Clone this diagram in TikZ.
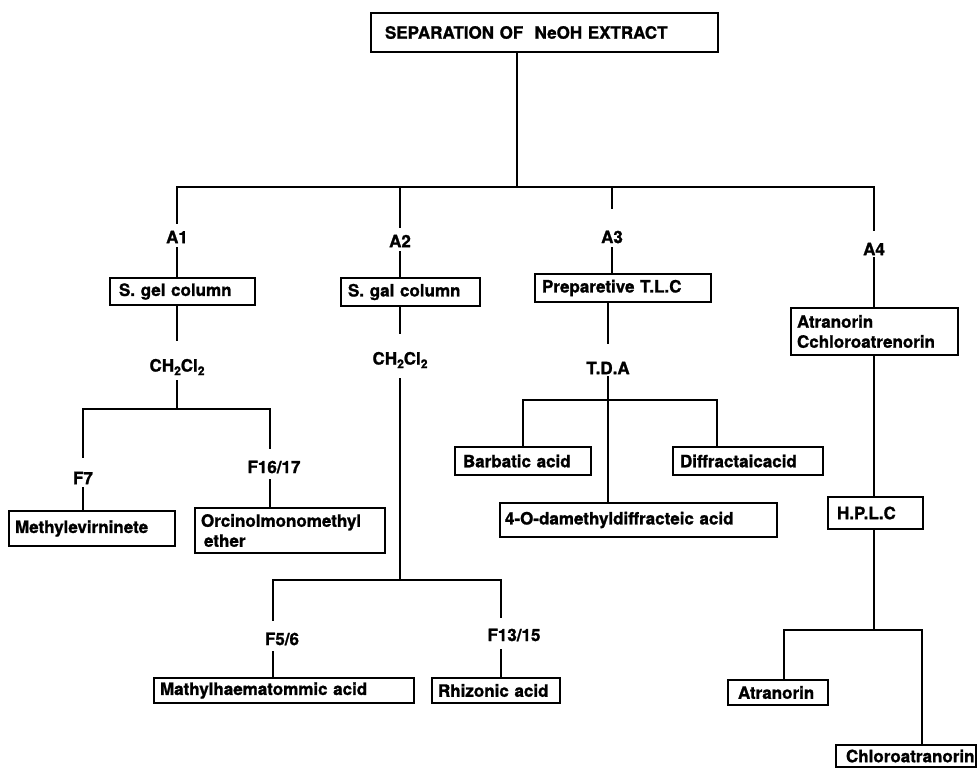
\documentclass[tikz,border=0pt]{standalone}
\usepackage{fontspec}
\setmainfont{TeX Gyre Heros}[BoldFeatures={FakeBold=1.2}]
\usepackage{tikz}
\newcommand\subnum[1]{\raisebox{-3.5pt}{\fontsize{12}{12}\selectfont #1}}

\begin{document}
\begin{tikzpicture}[x=1pt,y=-1pt,
    box/.style={draw,line width=2.8pt,align=left,inner ysep=0pt,font=\bfseries\fontsize{17}{20}\selectfont},
    lbl/.style={inner sep=3pt,font=\bfseries\fontsize{17}{20}\selectfont},
    conn/.style={line width=2.8pt,line cap=rect}]
  \useasboundingbox (0,0) rectangle (978,769);

  \node[box,inner xsep=14pt,text width=319pt,minimum height=39pt] (sep) at (544.5,32.5) {SEPARATION OF\ \ NeOH EXTRACT};
  \coordinate (top) at (517,187);
  \coordinate (ja1) at (177,187);
  \coordinate (ja2) at (400,187);
  \coordinate (ja3) at (612,187);
  \coordinate (ja4) at (874,187);
  \draw[conn] (sep.south -| top) -- (top);
  \draw[conn] (ja1) -- (ja4);

  % A1
  \node[lbl] (la1) at (177,237) {A1};
  \node[box,inner xsep=9pt,text width=127pt,minimum height=27pt] (sgel1) at (182.5,291.5) {S. gel column};
  \node[lbl] (ch1) at (177,367) {CH\subnum{2}Cl\subnum{2}};
  \coordinate (j1) at (177,409);
  \coordinate (j1l) at (83,409);
  \coordinate (j1r) at (270,409);
  \node[lbl] (f7) at (83,478) {F7};
  \node[lbl] (f1617) at (274,467) {F16/17};
  \node[box,inner xsep=6pt,text width=154pt,minimum height=35pt] (methyl) at (92,528.5) {Methylevirninete};
  \node[box,inner xsep=6pt,text width=178pt,minimum height=45pt] (orcin) at (290,530.5) {Orcinolmonomethyl\\\hspace*{3pt}ether};
  \draw[conn,shorten >=5pt] (ja1) -- (la1);
  \draw[conn,shorten <=2pt] (la1) -- (la1 |- sgel1.north);
  \draw[conn,shorten >=16pt] (ch1 |- sgel1.south) -- (ch1);
  \draw[conn,shorten <=3pt] (ch1) -- (j1);
  \draw[conn] (j1l) -- (j1r);
  \draw[conn,shorten >=12pt] (j1l) -- (f7);
  \draw[conn,shorten <=1pt] (f7) -- (f7 |- methyl.north);
  \draw[conn,shorten >=10pt] (j1r) -- (j1r |- f1617.north);
  \draw[conn,shorten <=4pt] (j1r |- f1617.south) -- (j1r |- orcin.north);

  % A2
  \node[lbl] (la2) at (400,241) {A2};
  \node[box,inner xsep=7pt,text width=125pt,minimum height=28pt] (sgel2) at (410.5,292) {S. gal column};
  \node[lbl] (ch2) at (400,360) {CH\subnum{2}Cl\subnum{2}};
  \coordinate (j2) at (400,580);
  \coordinate (j2l) at (273,580);
  \coordinate (j2r) at (501,580);
  \node[lbl] (f56) at (282,639) {F5/6};
  \node[lbl] (f1315) at (514,635) {F13/15};
  \node[box,inner xsep=6pt,text width=248pt,minimum height=25pt] (mathyl) at (284,690.5) {Mathylhaematommic acid};
  \node[box,inner xsep=6pt,text width=116pt,minimum height=25pt] (rhiz) at (496,690.5) {Rhizonic acid};
  \draw[conn,shorten >=5pt] (ja2) -- (la2);
  \draw[conn,shorten <=2pt] (la2) -- (la2 |- sgel2.north);
  \draw[conn,shorten >=16pt] (ch2 |- sgel2.south) -- (ch2);
  \draw[conn,shorten <=8pt] (ch2) -- (j2);
  \draw[conn] (j2l) -- (j2r);
  \draw[conn,shorten >=10pt] (j2l) -- (j2l |- f56.north);
  \draw[conn,shorten <=4pt] (j2l |- f56.south) -- (j2l |- mathyl.north);
  \draw[conn,shorten >=9pt] (j2r) -- (j2r |- f1315.north);
  \draw[conn,shorten <=6pt] (j2r |- f1315.south) -- (j2r |- rhiz.north);

  % A3
  \node[lbl] (la3) at (612,237) {A3};
  \node[box,inner xsep=7pt,text width=162pt,minimum height=28pt] (prep) at (623,288) {Preparetive T.L.C};
  \node[lbl] (tda) at (608,368) {T.D.A};
  \coordinate (j3l) at (523,400);
  \coordinate (j3r) at (717,400);
  \node[box,inner xsep=8pt,text width=120pt,minimum height=28pt] (barb) at (523,461) {Barbatic acid};
  \node[box,inner xsep=7pt,text width=136pt,minimum height=28pt] (diffr) at (748,461) {Diffractaicacid};
  \node[box,inner xsep=5pt,text width=267pt,minimum height=34pt] (demeth) at (638.5,520) {4-O-damethyldiffracteic acid};
  \draw[conn,shorten >=20pt] (ja3) -- (la3);
  \draw[conn,shorten <=2pt] (la3) -- (la3 |- prep.north);
  \draw[conn,shorten >=16pt] (tda |- prep.south) -- (tda);
  \draw[conn] (tda) -- (tda |- demeth.north);
  \draw[conn] (j3l) -- (j3r);
  \draw[conn] (j3l) -- (j3l |- barb.north);
  \draw[conn] (j3r) -- (j3r |- diffr.north);

  % A4
  \node[lbl] (la4) at (874,249) {A4};
  \node[box,inner xsep=6pt,text width=155pt,minimum height=47pt] (atrcl) at (874.5,331.5) {Atranorin\\Cchloroatrenorin};
  \node[box,inner xsep=9pt,text width=77pt,minimum height=32pt] (hplc) at (875.5,513) {H.P.L.C};
  \coordinate (j4) at (874,630);
  \coordinate (j4l) at (784,630);
  \coordinate (j4r) at (922,630);
  \node[box,inner xsep=10pt,text width=80pt,minimum height=25pt] (atran) at (778,692.5) {Atranorin};
  \node[box,inner xsep=10pt,text width=120pt,minimum height=22pt] (chlor) at (906,756) {Chloroatranorin};
  \draw[conn,shorten >=10pt] (ja4) -- (la4);
  \draw[conn] (la4) -- (la4 |- atrcl.north);
  \draw[conn] (la4 |- atrcl.south) -- (la4 |- hplc.north);
  \draw[conn] (la4 |- hplc.south) -- (j4);
  \draw[conn] (j4l) -- (j4r);
  \draw[conn] (j4l) -- (j4l |- atran.north);
  \draw[conn] (j4r) -- (j4r |- chlor.north);
\end{tikzpicture}
\end{document}
